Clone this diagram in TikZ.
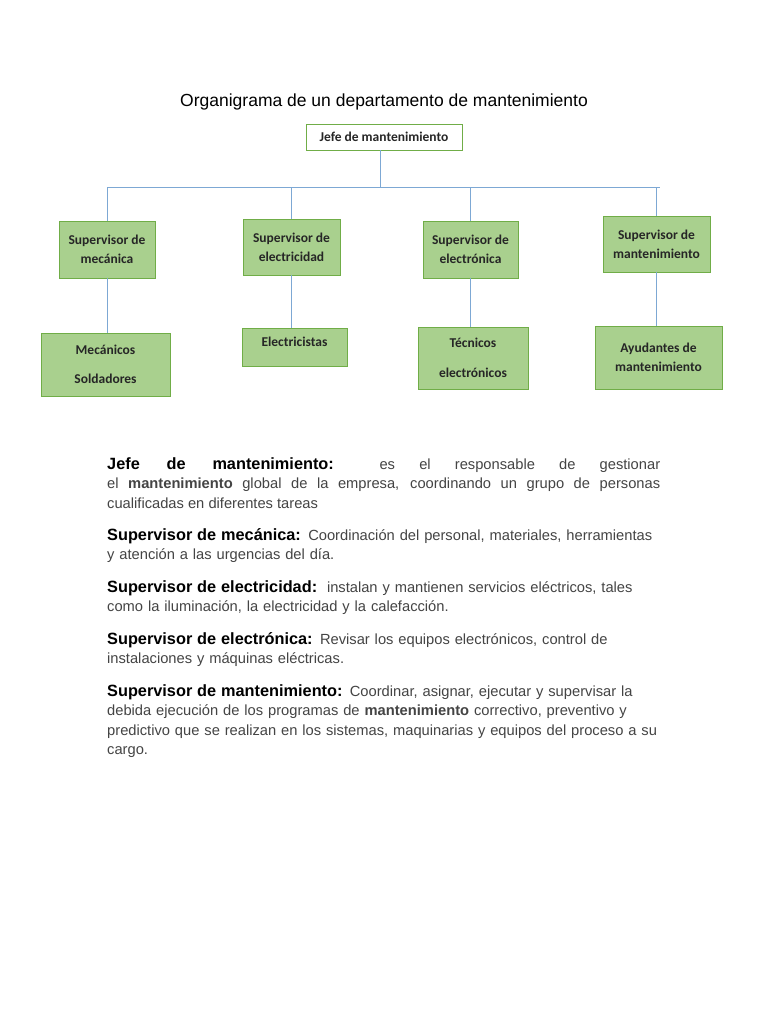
\documentclass[tikz,border=0pt]{standalone}
\usepackage{fontspec}
\setmainfont{Liberation Sans}
\newfontfamily\cajafont{Carlito}
\usetikzlibrary{positioning}
\definecolor{verdeborde}{RGB}{112,173,71}
\definecolor{verderelleno}{RGB}{169,208,142}
\definecolor{azullinea}{RGB}{125,168,212}
\definecolor{gristexto}{RGB}{68,68,68}
\newcommand{\etiq}[1]{{\color{black}\fontsize{16.3}{19.5}\selectfont\bfseries #1}}

\begin{document}
\begin{tikzpicture}[x=1pt, y=-1pt,
      caja/.style={draw=verdeborde, line width=0.8pt, fill=verderelleno,
                   align=center, inner sep=0pt, text=black!85,
                   font=\cajafont\bfseries\fontsize{13.5}{19}\selectfont},
      jefebox/.style={caja, fill=white},
      conn/.style={draw=azullinea, line width=0.9pt},
      parrafo/.style={anchor=base west, inner sep=0pt, text width=575pt,
                      align=left, text=gristexto,
                      font=\fontsize{14.7}{19.5}\selectfont}]
    \useasboundingbox[fill=white] (0,0) rectangle (768,1024);
    % titulo y jefe
    \node[font=\fontsize{17.5}{20}\selectfont] (titulo) at (384,102)
      {Organigrama de un departamento de mantenimiento};
    \node[jefebox, minimum width=156pt, minimum height=26pt] (jefe) at (384,137)
      {Jefe de mantenimiento};
    % supervisores
    \node[caja, minimum width=96pt, minimum height=57pt] (supmec) at (107,249.5)
      {Supervisor de\\ mecánica};
    \node[caja, minimum width=97pt, minimum height=56pt] (supelc) at (291.5,247)
      {Supervisor de\\ electricidad};
    \node[caja, minimum width=95pt, minimum height=57pt] (supetr) at (470.5,249.5)
      {Supervisor de\\ electrónica};
    \node[caja, minimum width=107pt, minimum height=56pt] (supman) at (656.5,244)
      {Supervisor de\\ mantenimiento};
    % personal
    \node[caja, minimum width=129pt, minimum height=63pt] (mec) at (105.5,364.5)
      {Mecánicos\\[10pt] Soldadores};
    \node[caja, minimum width=105pt, minimum height=38pt, text depth=10pt] (elc) at (294.5,347)
      {Electricistas};
    \node[caja, minimum width=110pt, minimum height=62pt] (tec) at (473,358)
      {Técnicos\\[11pt] electrónicos};
    \node[caja, minimum width=127pt, minimum height=63pt] (ayu) at (658.5,357.5)
      {Ayudantes de\\ mantenimiento};
    % lineas
    \coordinate (busL) at (107,187);
    \coordinate (busR) at (660,187);
    \draw[conn] (busL) -- (busR);
    \draw[conn] ([xshift=-4pt]jefe.south) -- ([xshift=-4pt]jefe.south |- busL);
    \foreach \s in {supmec, supelc, supetr, supman}
      \draw[conn] (\s.north) -- (\s.north |- busL);
    \foreach \s/\t in {supmec/mec, supelc/elc, supetr/tec, supman/ayu}
      \draw[conn] (\s.south) -- (\s.south |- \t.north);
    % descripciones
    \node[parrafo, text width=553pt, align=justify] (djefe) at (107,469)
      {\etiq{Jefe de mantenimiento:} es el responsable de gestionar\linebreak
       el {\bfseries mantenimiento} global de la empresa, coordinando un grupo de personas\linebreak
       cualificadas en diferentes tareas};
    \node[parrafo] (dmec) at (107,540)
      {\etiq{Supervisor de mecánica:} Coordinación del personal, materiales, herramientas\\
       y atención a las urgencias del día.};
    \node[parrafo] (delc) at (107,592)
      {\etiq{Supervisor de electricidad:}\ \ instalan y mantienen servicios eléctricos, tales\\
       como la iluminación, la electricidad y la calefacción.};
    \node[parrafo] (detr) at (107,644)
      {\etiq{Supervisor de electrónica:} Revisar los equipos electrónicos, control de\\
       instalaciones y máquinas eléctricas.};
    \node[parrafo] (dman) at (107,696)
      {\etiq{Supervisor de mantenimiento:} Coordinar, asignar, ejecutar y supervisar la\\
       debida ejecución de los programas de {\bfseries mantenimiento} correctivo, preventivo y\\
       predictivo que se realizan en los sistemas, maquinarias y equipos del proceso a su\\
       cargo.};
  \end{tikzpicture}
\end{document}
